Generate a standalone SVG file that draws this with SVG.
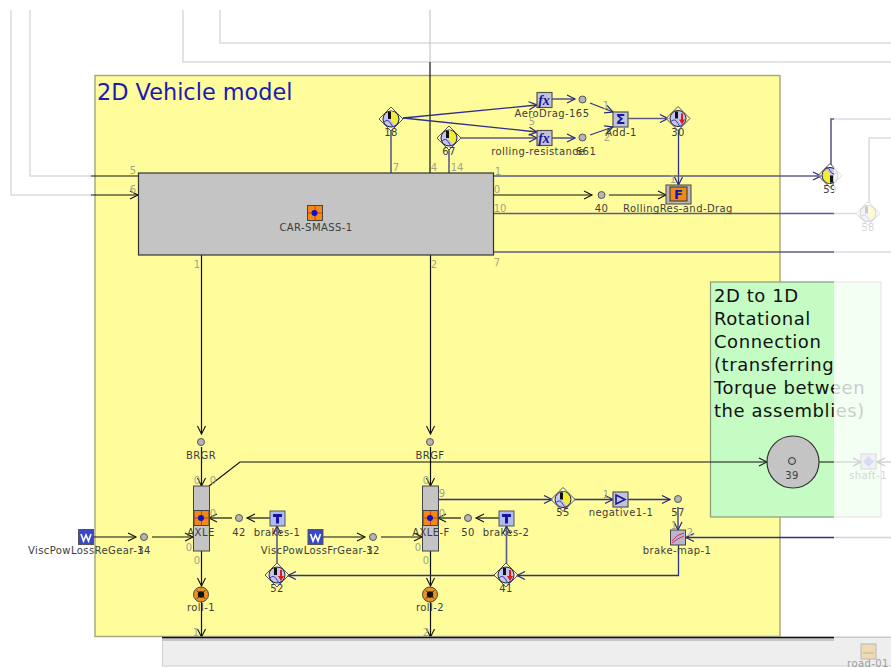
<svg xmlns="http://www.w3.org/2000/svg" width="891" height="667" viewBox="0 0 891 667">
<style>
text{font-family:"DejaVu Sans","Liberation Sans",sans-serif}
.l{font-size:10px;fill:#3c3c3c;text-anchor:middle;letter-spacing:.42px}
.p{font-size:10px;fill:#a3a385;text-anchor:middle}
.g{fill:none;stroke:#dcdcdc;stroke-width:1.6}
.k{fill:none;stroke:#111;stroke-width:1.2}
.kg{fill:none;stroke:#111;stroke-width:1.2;marker-end:url(#ak)}
.b{fill:none;stroke:#30308a;stroke-width:1.3}
.ba{fill:none;stroke:#30308a;stroke-width:1.3;marker-end:url(#ab)}
.s{fill:none;stroke:#5c5c8a;stroke-width:1.6}
.sa{fill:none;stroke:#5c5c8a;stroke-width:1.6;marker-end:url(#ab)}
.d{fill:#b5b5b5;stroke:#555;stroke-width:1}
.box{fill:#c4c4d8;stroke:#555;stroke-width:1.2}
.title{font-size:22.4px;fill:#1a1ab4}
.t2{font-size:18px;fill:#111;letter-spacing:.55px}
</style>
<defs>
<marker id="ak" markerUnits="userSpaceOnUse" markerWidth="12" markerHeight="12" refX="9" refY="5" orient="auto"><path d="M1,1 L9,5 L1,9" fill="none" stroke="#111" stroke-width="1.1"/></marker>
<marker id="ab" markerUnits="userSpaceOnUse" markerWidth="12" markerHeight="12" refX="9" refY="5" orient="auto"><path d="M1,1 L9,5 L1,9" fill="none" stroke="#26267e" stroke-width="1.2"/></marker>
<g id="sy">
<path d="M0,-12 L12,0 L0,12 L-12,0 Z" fill="#fffde0" fill-opacity=".5" stroke="#555"/>
<circle r="8" fill="#c4c4ec" stroke="#222"/>
<path d="M0,-8 A8,8 0 0 1 4,6 L0,2 Z" fill="#f4ee30"/>
<path d="M-3,-7 h3 v7 h-3 Z" fill="#111"/>
<path d="M-7,3 Q-3,-1 0,5 T6,5" fill="none" stroke="#3838c0"/>
</g>
<g id="sr">
<path d="M0,-12 L12,0 L0,12 L-12,0 Z" fill="#fffde0" fill-opacity=".5" stroke="#555"/>
<circle r="8" fill="#c4c4ec" stroke="#222"/>
<path d="M-3,-7 h3 v7 h-3 Z" fill="#111"/>
<path d="M3,-5 v6 h-2 l3,5 l3,-5 h-2 v-6 Z" fill="#e01818"/>
<path d="M-7,3 Q-3,-1 0,5 T4,6" fill="none" stroke="#3838c0"/>
</g>
<g id="mass">
<rect x="-7.5" y="-7.5" width="15" height="15" fill="#f08a14" stroke="#444"/>
<path d="M0,-7 V7 M-7,0 H7" stroke="#d02020" stroke-width=".8"/>
<circle cx="-.5" r="3" fill="#1010c8"/>
</g>
<g id="fx">
<rect x="-7.5" y="-7.5" width="15" height="15" class="box"/>
<text x="-.5" y="4.5" font-size="14" font-weight="bold" fill="#16169a" text-anchor="middle" style="font-family:'Liberation Serif',serif;font-style:italic">fx</text>
</g>
<g id="wbox">
<rect x="-7.5" y="-7.5" width="15" height="15" fill="#3a48c8" stroke="#555"/>
<path d="M-5,-3 L-2.5,4 L0,-2 L2.5,4 L5,-3" fill="none" stroke="#fff" stroke-width="1.6"/>
</g>
<g id="tbox">
<rect x="-7.5" y="-7.5" width="15" height="15" fill="#aebcf0" stroke="#555"/>
<path d="M-4.5,-4.5 H4.5 V-1.5 H1.5 V5 H-1.5 V-1.5 H-4.5 Z" fill="#1414a8"/>
</g>
<g id="roll">
<circle r="7.5" fill="#ea9224" stroke="#444"/>
<circle r="3.2" fill="#111"/>
<path d="M-4,-4 L4,4 M4,-4 L-4,4" stroke="#111"/>
</g>
</defs>

<rect id="bg" width="891" height="667" fill="#fff"/>
<g id="panels">
<path class="g" d="M11,10 V195 H91 M30,10 V176 H91 M183,10 V62 H891 M220,10 V43 H891"/>
<path d="M430,10 V62" fill="none" stroke="#c8c8c8" stroke-width="1.2"/>
<rect id="panel-vehicle" x="95" y="75.5" width="685" height="561" fill="#fffc9c" stroke="#a5a57a" stroke-width="1.4"/>
<rect id="panel-green" x="710.5" y="282" width="170.5" height="235" fill="#c4fcc4" stroke="#8c9a78" stroke-width="1.2"/>
</g>

<text x="97" y="100" class="title">2D Vehicle model</text>
<g id="t2d">
<text x="714" y="302" class="t2">2D to 1D</text>
<text x="714" y="325" class="t2">Rotational</text>
<text x="714" y="348" class="t2">Connection</text>
<text x="714" y="371" class="t2">(transferring</text>
<text x="714" y="394" class="t2">Torque between</text>
<text x="714" y="417" class="t2">the assemblies)</text>
</g>

<g id="connectors">
<path class="k" d="M430,62 V173"/>
<path class="k" d="M91,176 H138"/>
<path class="kg" d="M91,195 H138"/>
<path class="s" d="M391,173 V130"/>
<path class="s" d="M449,173 V149"/>
<path class="ba" d="M403,118 L537,105"/>
<path class="ba" d="M403,118 L537,132"/>
<path class="sa" d="M460,138 H537"/>
<path class="sa" d="M552,99 H575"/>
<path class="sa" d="M552,138 H575"/>
<path class="ba" d="M590,103 L613,112"/>
<path class="ba" d="M590,135 L613,127"/>
<path class="sa" d="M628,118.5 H668"/>
<path class="ba" d="M678.5,130 V185"/>
<path class="sa" d="M494,176 H821"/>
<path class="s" d="M831,165 V119 H891"/>
<path class="s" d="M494,213.5 H857"/>
<path class="s" d="M869,203 V138 H891"/>
<path class="s" d="M494,252 H891"/>
<path class="kg" d="M494,195 H592"/>
<path class="kg" d="M609,195 H666"/>
<path class="kg" d="M201.5,255 V434"/>
<path class="kg" d="M201.5,447 V486"/>
<path class="kg" d="M430.5,255 V434"/>
<path class="kg" d="M430.5,447 V486"/>
<path class="kg" d="M201.5,551 V586"/>
<path class="kg" d="M201.5,602 V637"/>
<path class="kg" d="M430.5,551 V586"/>
<path class="kg" d="M430.5,602 V637"/>
<path class="kg" d="M209,486 L240,462 H767"/>
<path class="kg" d="M819,462 H861"/>
<path class="kg" d="M891,462 H877"/>
<path class="kg" d="M270,518 H247"/>
<path class="kg" d="M232,518 H209"/>
<path class="kg" d="M94,537 H136"/>
<path class="kg" d="M152,537 H193"/>
<path class="kg" d="M323,537 H365"/>
<path class="kg" d="M381,537 H422"/>
<path class="kg" d="M499,518 H476"/>
<path class="kg" d="M461,518 H438"/>
<path class="ba" d="M438,499.5 H552"/>
<path class="ba" d="M574,499.5 H613"/>
<path class="ba" d="M628,499.5 H670"/>
<path class="ba" d="M678,507 V530"/>
<path class="ba" d="M891,537.5 H686"/>
<path class="ba" d="M678.5,545 V575.5 H517"/>
<path class="ba" d="M495,575.5 H288"/>
<path class="sa" d="M506.5,564 V526"/>
<path class="sa" d="M277,564 V526"/>
</g>

<g id="car-smass-1">
<rect x="138.5" y="173" width="355" height="82" fill="#c4c4c4" stroke="#333" stroke-width="1.2"/>
<use href="#mass" x="315" y="213"/>
<text x="316" y="231" class="l">CAR-SMASS-1</text>
</g>
<g id="ports">
<text x="133" y="174" class="p">5</text><text x="133" y="193" class="p">6</text>
<text x="396" y="171" class="p">7</text><text x="434" y="171" class="p">4</text><text x="457" y="171" class="p">14</text>
<text x="498" y="175" class="p">1</text><text x="497" y="193" class="p">0</text><text x="500" y="212" class="p">10</text><text x="497" y="266" class="p">7</text>
<text x="197" y="268" class="p">1</text><text x="434" y="268" class="p">2</text>
<text x="197" y="484" class="p">0</text><text x="213" y="484" class="p">0</text><text x="213" y="517" class="p">0</text><text x="189" y="551" class="p">0</text><text x="197" y="564" class="p">0</text><text x="196" y="636" class="p">1</text>
<text x="426" y="484" class="p">0</text><text x="442" y="497" class="p">9</text><text x="442" y="517" class="p">0</text><text x="418" y="551" class="p">0</text><text x="426" y="564" class="p">0</text><text x="426" y="636" class="p">2</text>
<text x="606" y="109" class="p">1</text><text x="607" y="141" class="p">2</text><text x="532" y="125" class="p">5</text><text x="673" y="183" class="p">1</text>
<text x="606" y="498" class="p">1</text><text x="674" y="529" class="p">1</text><text x="690" y="536" class="p">2</text>
</g>

<g id="n18"><use href="#sy" x="391" y="119"/><text x="391" y="136" class="l">18</text></g>
<g id="n67"><use href="#sy" x="449" y="138"/><text x="449" y="155" class="l">67</text></g>
<g id="aerodrag"><use href="#fx" x="544.5" y="100"/><text x="552" y="117" class="l">AeroDrag-165</text></g>
<g id="rolling"><use href="#fx" x="544.5" y="138"/><text x="538" y="155" class="l">rolling-resistance</text><text x="586" y="155" class="l">661</text></g>
<g id="d1"><circle cx="582.5" cy="99.5" r="3.5" class="d"/></g>
<g id="d2"><circle cx="582.5" cy="137.5" r="3.5" class="d"/></g>
<g id="add-1"><rect x="613" y="112" width="15" height="15" class="box"/><text x="620.5" y="124" font-size="14" font-weight="bold" fill="#16169a" text-anchor="middle">Σ</text><text x="621" y="136" class="l">Add-1</text></g>
<g id="n30"><use href="#sr" x="678" y="118.5"/><text x="678" y="136" class="l">30</text></g>
<g id="n40"><circle cx="601.5" cy="195" r="3.5" class="d"/><text x="601.5" y="212" class="l">40</text></g>
<g id="rollingres"><rect x="666" y="185" width="25" height="19" fill="#b8b8b8" stroke="#444"/><rect x="670" y="187" width="17" height="14" fill="#f08a14" stroke="#333"/><text x="678.5" y="199" font-size="13" font-weight="bold" fill="#1414a8" text-anchor="middle">F</text><text x="678" y="212" class="l">RollingRes-and-Drag</text></g>
<g id="n59"><use href="#sy" x="830" y="175.5" transform="rotate(180 830 175.5)"/><text x="830" y="193" class="l">59</text></g>
<g id="n58"><use href="#sy" x="868" y="213.5"/><text x="868" y="231" class="l">58</text></g>

<g id="brgr"><circle cx="201" cy="442" r="3.5" class="d"/><text x="201" y="459" class="l">BRGR</text></g>
<g id="brgf"><circle cx="430" cy="442" r="3.5" class="d"/><text x="430" y="459" class="l">BRGF</text></g>
<g id="axle"><rect x="193.5" y="486" width="16" height="65" fill="#c4c4c4" stroke="#444"/><use href="#mass" x="201.5" y="518"/><text x="201" y="536" class="l">AXLE</text></g>
<g id="axle-f"><rect x="422.5" y="486" width="16" height="65" fill="#c4c4c4" stroke="#444"/><use href="#mass" x="430.5" y="518"/><text x="431" y="536" class="l">AXLE-F</text></g>
<g id="roll-1"><use href="#roll" x="201" y="594.5"/><text x="201" y="611" class="l">roll-1</text></g>
<g id="roll-2"><use href="#roll" x="430" y="594.5"/><text x="430" y="611" class="l">roll-2</text></g>
<g id="n42"><circle cx="239" cy="518" r="3.5" class="d"/><text x="239" y="536" class="l">42</text></g>
<g id="brakes-1"><use href="#tbox" x="277.5" y="518.5"/><text x="277" y="536" class="l">brakes-1</text></g>
<g id="n50"><circle cx="468" cy="518" r="3.5" class="d"/><text x="468" y="536" class="l">50</text></g>
<g id="brakes-2"><use href="#tbox" x="506.5" y="518.5"/><text x="506" y="536" class="l">brakes-2</text></g>
<g id="visc-re"><use href="#wbox" x="86" y="537"/><text x="86" y="554" class="l">ViscPowLossReGear-1</text></g>
<g id="n34"><circle cx="144" cy="537" r="3.5" class="d"/><text x="144" y="554" class="l">34</text></g>
<g id="visc-fr"><use href="#wbox" x="315.5" y="537"/><text x="317" y="554" class="l">ViscPowLossFrGear-1</text></g>
<g id="n32"><circle cx="373" cy="537" r="3.5" class="d"/><text x="373" y="554" class="l">32</text></g>
<g id="n52"><use href="#sr" x="277" y="575"/><text x="277" y="592" class="l">52</text></g>
<g id="n41"><use href="#sr" x="506" y="575"/><text x="506" y="592" class="l">41</text></g>
<g id="n55"><use href="#sy" x="563" y="499.5"/><text x="563" y="516" class="l">55</text></g>
<g id="negative1-1"><rect x="613" y="492" width="15" height="15" class="box"/><path d="M616,495 L625,499.5 L616,504 Z" fill="none" stroke="#16169a" stroke-width="1.6"/><text x="621" y="516" class="l">negative1-1</text></g>
<g id="n57"><circle cx="678" cy="499" r="3.5" class="d"/><text x="678" y="516" class="l">57</text></g>
<g id="brake-map-1"><rect x="670.5" y="530" width="15" height="15" fill="#b8b8c8" stroke="#444"/><path d="M672,541 Q677,534 684,533 M672,543 Q678,538 684,536" fill="none" stroke="#d03070"/><text x="677" y="554" class="l">brake-map-1</text></g>
<g id="n39"><circle cx="793" cy="462" r="26" fill="#c4c4c4" stroke="#333" stroke-width="1.2"/><circle cx="792" cy="461" r="3.5" fill="#bbb" stroke="#333"/><text x="792" y="479" class="l">39</text></g>
<g id="shaft-1"><rect x="861" y="454" width="15" height="15" fill="#c0c0e0" stroke="#555"/><path d="M868.5,456 L874,461.5 L868.5,467 L863,461.5 Z" fill="#5060c0"/><text x="868" y="479" class="l">shaft-1</text></g>

<rect id="fade" x="834" y="100" width="57" height="536" fill="#fff" fill-opacity=".78"/>

<g id="road-panel">
<rect id="panel-bottom" x="162.5" y="637" width="729" height="29" fill="#eeeeee" stroke="#cfcfcf"/>
<rect x="163" y="638" width="671" height="3" fill="#c6c6c6"/>
<path d="M162,637.5 H834" stroke="#111" stroke-width="1.4" fill="none"/>
<path d="M834,637.5 H891" stroke="#c8c8c8" stroke-width="1.2" fill="none"/>
</g>
<g id="road-01" opacity=".45"><rect x="861" y="644" width="15" height="15" fill="#f4c070" stroke="#777"/><path d="M863,653 H874" stroke="#5a8a30"/><text x="868" y="667" class="l">road-01</text></g>
</svg>
